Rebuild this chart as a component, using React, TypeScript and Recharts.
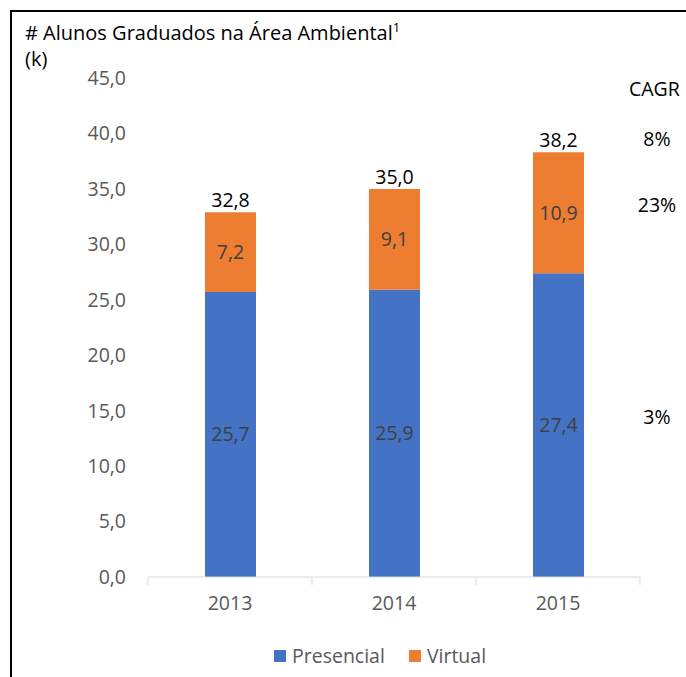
import React from "react";
import { Bar, BarChart, LabelList, Legend, XAxis, YAxis } from "recharts";

const years = ["2013", "2014", "2015"];
const presencial = [25.7, 25.9, 27.4];
const virtual = [7.2, 9.1, 10.9];
const totals = [32.8, 35.0, 38.2];
const yTicks = [0, 5, 10, 15, 20, 25, 30, 35, 40, 45];
// CAGR shown beside the last bar
const cagrTotal = "8%";
const cagrVirtual = "23%";
const cagrPresencial = "3%";

const BLUE = "#4472C4";
const ORANGE = "#ED7D31";
const FONT = "'Open Sans', sans-serif";
const FS = 19.5;

const data = years.map((y, i) => ({ year: y, presencial: presencial[i], virtual: virtual[i], total: totals[i] }));
const fmt = (v: number) => v.toFixed(1).replace(".", ",");
const last = years.length - 1;

function XTick(props: any) {
  const { x, y, payload, index } = props;
  const off = payload.offset ?? 0;
  return (
    <g>
      <line x1={x - off} x2={x - off} y1={y} y2={y + 8} stroke="#d9d9d9" />
      {index === last && <line x1={x + off} x2={x + off} y1={y} y2={y + 8} stroke="#d9d9d9" />}
      <text x={x} y={y + 28} textAnchor="middle" dominantBaseline="middle" fill="#595959" fontSize={FS} fontFamily={FONT}>
        {payload.value}
      </text>
    </g>
  );
}

// side label for CAGR column, placed next to the last bar
const sideLabel = (text: string, center: boolean) => (props: any) => {
  const { x, y, width, height, index } = props;
  if (index !== last) return null;
  const cy = center ? y + height / 2 - 6 : y - 12;
  return (
    <text x={x + width + 73} y={cy} textAnchor="middle" dominantBaseline="middle" fill="#000" fontSize={FS} fontFamily={FONT}>
      {text}
    </text>
  );
};

function LegendBox() {
  const items = [
    { name: "Presencial", color: BLUE },
    { name: "Virtual", color: ORANGE },
  ];
  return (
    <div style={{ display: "flex", gap: 24, fontFamily: FONT, fontSize: FS, color: "#595959", paddingLeft: 274 }}>
      {items.map((it) => (
        <div key={it.name} style={{ display: "flex", alignItems: "center", gap: 6 }}>
          <span style={{ width: 12, height: 12, background: it.color, display: "inline-block" }} />
          <span>{it.name}</span>
        </div>
      ))}
    </div>
  );
}

export default function App() {
  return (
    <div style={{ position: "absolute", left: 0, top: 0, width: 686, height: 677, background: "#fff", overflow: "hidden" }}>
      <div style={{ position: "absolute", left: 10, top: 10, width: 686, height: 677, borderLeft: "2px solid #000", borderTop: "2px solid #000" }} />
      <div style={{ position: "absolute", left: 25, top: 14, fontFamily: FONT, fontSize: 20, lineHeight: "26px", color: "#000" }}>
        # Alunos Graduados na Área Ambiental<sup style={{ fontSize: 13 }}>1</sup>
        <br />
        (k)
      </div>
      <div style={{ position: "absolute", left: 629, top: 75, fontFamily: FONT, fontSize: FS, color: "#000" }}>CAGR</div>
      <BarChart width={686} height={677} data={data} margin={{ top: 78, right: 46, left: 0, bottom: 70 }}>
        <YAxis
          type="number"
          domain={[0, 45]}
          ticks={yTicks}
          width={148}
          tickFormatter={fmt}
          axisLine={false}
          tickLine={false}
          tickSize={0}
          tickMargin={22}
          tick={{ fill: "#595959", fontSize: FS, fontFamily: FONT }}
        />
        <XAxis dataKey="year" height={30} axisLine={{ stroke: "#d9d9d9" }} tickLine={false} tickSize={0} tickMargin={0} tick={<XTick />} />
        <Legend layout="horizontal" verticalAlign="middle" align="center" wrapperStyle={{ top: 642, left: 0, width: 686 }} content={<LegendBox />} />
        <Bar dataKey="presencial" name="Presencial" stackId="a" fill={BLUE} barSize={51} isAnimationActive={false}>
          <LabelList dataKey="presencial" position="center" formatter={(v: any) => fmt(Number(v))} fill="#404040" fontSize={FS} fontFamily={FONT} />
          <LabelList dataKey="presencial" content={sideLabel(cagrPresencial, true)} />
        </Bar>
        <Bar dataKey="virtual" name="Virtual" stackId="a" fill={ORANGE} barSize={51} isAnimationActive={false}>
          <LabelList dataKey="virtual" position="center" formatter={(v: any) => fmt(Number(v))} fill="#404040" fontSize={FS} fontFamily={FONT} />
          <LabelList dataKey="total" position="top" offset={5} formatter={(v: any) => fmt(Number(v))} fill="#000" fontSize={FS} fontFamily={FONT} />
          <LabelList dataKey="virtual" content={sideLabel(cagrVirtual, true)} />
          <LabelList dataKey="total" content={sideLabel(cagrTotal, false)} />
        </Bar>
      </BarChart>
    </div>
  );
}
